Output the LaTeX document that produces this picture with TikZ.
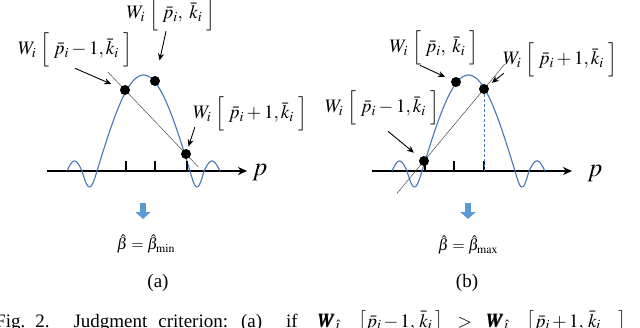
\documentclass[tikz,border=0pt]{standalone}
\usepackage{mathptmx}
\usepackage{bm}
\usepackage{fontspec}
\setmainfont{Liberation Serif}
\usetikzlibrary{arrows.meta,calc}
\definecolor{waveblue}{RGB}{70,118,180}
\definecolor{arrowblue}{RGB}{91,155,213}

\begin{document}
\begin{tikzpicture}[x=1pt, y=-1pt, >=Stealth,
    lab/.style={inner sep=0pt, font=\fontsize{19}{21}\selectfont},
    dot/.style={circle, fill=black, inner sep=0pt, minimum size=10pt},
    ptr/.style={-{Stealth[length=7pt,width=6pt]}, line width=0.9pt},
    chord/.style={black!70, line width=0.5pt},
    lobe/.style={waveblue, line width=1.1pt},
    axis/.style={line width=1.6pt, -{Stealth[length=9pt,width=8pt]}},
    tick/.style={line width=1.6pt},
    down/.style={arrowblue, line width=6pt, -{Triangle[length=7pt,width=15pt]}}]
  \useasboundingbox (0,0) rectangle (640,327);
  \clip (0,0) rectangle (640,327);
  % ================================================================ axes and sinc-like curves
  \foreach \s/\n in {0/A,325/B} {
    \begin{scope}[xshift=\s pt]
      \draw[axis] (47,171) coordinate (ax\n) -- (247,171);
      \draw[lobe] plot[domain=67:82, samples=20] (\x,{171-10*sin(12*(\x-67))})
        -- plot[domain=82:97, samples=20] (\x,{171+16*sin(12*(\x-82))})
        -- plot[domain=97:190, samples=60] (\x,{171-96*cos(180*(\x-143.5)/93)})
        -- plot[domain=190:204, samples=20] (\x,{171+16*sin(180*(\x-190)/14)})
        -- plot[domain=204:220, samples=20] (\x,{171-10*sin(180*(\x-204)/16)});
    \end{scope}
  }
  \node[font=\fontsize{26}{26}\selectfont] (pA) at (260,172) {$p$};
  \node[font=\fontsize{26}{26}\selectfont] (pB) at (595,174) {$p$};
  % ticks
  \foreach \x in {126,155,187,425,454,484} \draw[tick] (\x,171) -- (\x,161);
  % ================================================================ panel (a)
  \coordinate (pAm) at (125,90);
  \coordinate (pA0) at (155,81);
  \coordinate (pAp) at (186,154);
  \draw[chord] ($(pAm)!-0.28!(pAp)$) -- ($(pAm)!1.2!(pAp)$);
  \foreach \c in {pAm,pA0,pAp} \node[dot] at (\c) {};
  \node[lab] (wA0) at (171,14) {$W_{i}\;\Big[\;\bar p_{i},\;\bar k_{i}\;\Big]$};
  \node[lab] (wAm) at (75,50) {$W_{i}\;\Big[\;\bar p_{i}-1,\bar k_{i}\;\Big]$};
  \node[lab] (wAp) at (250,114) {$W_{i}\;\Big[\;\bar p_{i}+1,\bar k_{i}\;\Big]$};
  \draw[ptr, shorten >=21pt] ([xshift=-5pt]wA0.south) -- (pA0);
  \draw[ptr, shorten >=15pt] ([yshift=-1pt]wAm.south) -- (pAm);
  \draw[ptr, shorten >=8pt] ([xshift=2pt,yshift=4pt]wAp.south west) -- (pAp);
  \coordinate (dA) at (143,203);
  \draw[down] (dA) -- ++(0,16);
  \node[font=\fontsize{16}{18}\selectfont] (betaA) at (146,244) {$\hat\beta=\hat\beta_{\min}$};
  \node[font=\fontsize{19}{20}\selectfont] (capA) at (158,283) {(a)};
  % ================================================================ panel (b)
  \coordinate (pBm) at (424,161);
  \coordinate (pB0) at (456,82);
  \coordinate (pBp) at (484,89);
  \draw[waveblue, densely dashed, line width=0.6pt] (pBp) -- (pBp |- axB);
  \draw[chord] ($(pBm)!-0.45!(pBp)$) -- ($(pBm)!1.35!(pBp)$);
  \foreach \c in {pBm,pB0,pBp} \node[dot] at (\c) {};
  \node[lab] (wB0) at (434,48) {$W_{i}\;\Big[\;\bar p_{i},\;\bar k_{i}\;\Big]$};
  \node[lab] (wBp) at (560,60) {$W_{i}\;\Big[\;\bar p_{i}+1,\bar k_{i}\;\Big]$};
  \node[lab] (wBm) at (382,108) {$W_{i}\;\Big[\;\bar p_{i}-1,\bar k_{i}\;\Big]$};
  \draw[ptr, shorten >=12pt] ([xshift=-14pt]wB0.south) -- (pB0);
  \draw[ptr, shorten >=10pt] ([xshift=1pt,yshift=4pt]wBp.south west) -- (pBp);
  \draw[ptr, shorten >=13pt] ([xshift=6pt,yshift=-6pt]wBm.south) -- (pBm);
  \coordinate (dB) at (468,203);
  \draw[down] (dB) -- ++(0,16);
  \node[font=\fontsize{16}{18}\selectfont] (betaB) at (468,245) {$\hat\beta=\hat\beta_{\max}$};
  \node[font=\fontsize{19}{20}\selectfont] (capB) at (467,283) {(b)};
  % ================================================================ caption (cut off)
  \node[anchor=base west, inner sep=0pt, font=\fontsize{19}{22}\selectfont] (caption) at (-5,327)
    {Fig.\hspace{10pt}2.\hspace{24pt}Judgment\hspace{11pt}criterion:\hspace{13pt}(a)\hspace{24pt}if\hspace{20pt}$\bm W_{\hat\imath}\hspace{18pt}\bigl[\bar p_i\,{-}\,1,\,\bar k_i\hspace{3pt}\bigr]\hspace{10pt}>\hspace{10pt}\bm W_{\hat\imath}\hspace{18pt}\bigl[\bar p_i\,{+}\,1,\,\bar k_i\hspace{18pt}\bigr]$};
\end{tikzpicture}
\end{document}
